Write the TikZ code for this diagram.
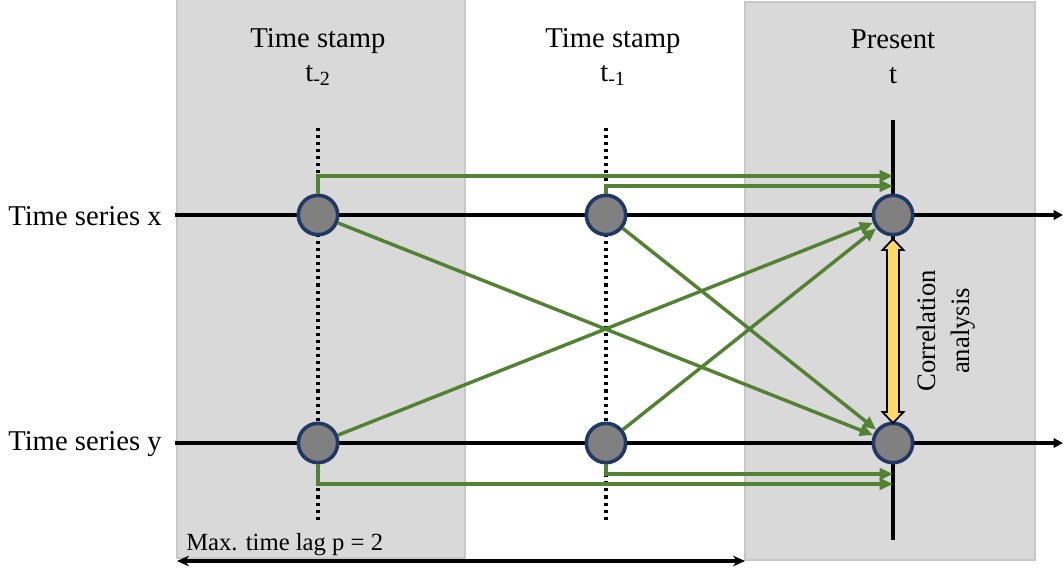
\documentclass[tikz,border=0pt]{standalone}
\usepackage{fontspec}
\setmainfont{Liberation Serif}
\usetikzlibrary{arrows.meta,calc}
\definecolor{boxgray}{HTML}{D9D9D9}
\definecolor{boxline}{HTML}{C8C8C8}
\definecolor{arrgreen}{HTML}{548235}
\definecolor{navy}{HTML}{1F3864}
\definecolor{nodegray}{HTML}{808080}
\definecolor{corryellow}{HTML}{FFD966}
\begin{document}
\begin{tikzpicture}[x=0.75pt,y=-0.75pt,
  bigtext/.style={font=\fontsize{21.5}{24}\selectfont, inner sep=0pt},
  colbox/.style={fill=boxgray, draw=boxline, line width=0.8pt},
  axis/.style={line width=2.6pt, -{Triangle[length=7pt,width=7pt]}},
  stampline/.style={line width=2.6pt, dash pattern=on 2.3pt off 3pt},
  pt/.style={circle, minimum size=29.5pt, inner sep=0pt, fill=nodegray, draw=navy, line width=2.7pt},
  garrow/.style={draw=arrgreen, line width=2.6pt, -{Triangle[length=10pt,width=8.5pt]}},
  gline/.style={draw=arrgreen, line width=2.6pt}
]
\useasboundingbox (0,0) rectangle (1063,569);
% shaded columns
\path[colbox] (177,-2) rectangle (465,558);
\path[colbox] (745,2) rectangle (1035,560);
% headings
\node[bigtext, align=center] (h2) at (318,57) {Time stamp\\[2pt] t\textsubscript{-2}};
\node[bigtext, align=center] (h1) at (613,57) {Time stamp\\[2pt] t\textsubscript{-1}};
\node[bigtext, align=center] (h0) at (893,57) {Present\\[2pt] t};
% series labels
\node[bigtext, anchor=west] (lx) at (8,216) {Time series x};
\node[bigtext, anchor=west] (ly) at (8,444) {Time series y};
% coordinates for lines
\coordinate (xs) at (175,215); \coordinate (xe) at (1063,215);
\coordinate (ys) at (175,443); \coordinate (ye) at (1063,443);
\coordinate (d2t) at (318,128); \coordinate (d2b) at (318,522);
\coordinate (d1t) at (606,128); \coordinate (d1b) at (606,522);
\coordinate (pt0) at (893,120); \coordinate (pb0) at (893,540);
% vertical lines
\draw[stampline] (d2t) -- (d2b);
\draw[stampline] (d1t) -- (d1b);
\draw[line width=2.6pt] (pt0) -- (pb0);
% time series axes
\draw[axis] (xs) -- (xe);
\draw[axis] (ys) -- (ye);
% nodes
\node[pt] (x2) at (318,215) {};
\node[pt] (x1) at (606,215) {};
\node[pt] (x0) at (893,215) {};
\node[pt] (y2) at (318,443) {};
\node[pt] (y1) at (606,443) {};
\node[pt] (y0) at (893,443) {};
% green connectors
\coordinate (a1) at (893,176);
\coordinate (a2) at (893,186);
\coordinate (a3) at (893,474);
\coordinate (a4) at (893,484);
\draw[garrow] (x2.north) |- (a1);
\draw[garrow] (x1.north) |- (a2);
\draw[garrow] (y1.south) |- (a3);
\draw[garrow] (y2.south) |- (a4);
\draw[garrow] (x2) -- (y0);
\draw[garrow] (x1) -- (y0);
\draw[garrow] (y2) -- (x0);
\draw[garrow] (y1) -- (x0);
% correlation double arrow
\coordinate (ct) at (893,239);
\coordinate (cb) at (893,423);
\draw[fill=corryellow, line width=1.3pt, line join=miter]
  (ct) -- ++(10.5,11) -- ++(-4.5,0) -- ($(cb)+(6,-11)$) -- ++(4.5,0) -- (cb)
  -- ++(-10.5,-11) -- ++(4.5,0) -- ($(ct)+(-6,11)$) -- ++(-4.5,0) -- cycle;
\node[font=\fontsize{20}{26}\selectfont, align=center, rotate=90, inner sep=0pt] (corr) at (946,331) {Correlation\\analysis};
% max time lag
\coordinate (ml) at (177,561);
\coordinate (mr) at (745,561);
\draw[line width=2.5pt, {Stealth[length=9pt,width=8pt]}-{Stealth[length=9pt,width=8pt]}] (ml) -- (mr);
\node[font=\fontsize{18.5}{22}\selectfont, anchor=west, inner sep=0pt] (lag) at (186,545) {Max. time lag p = 2};
\end{tikzpicture}
\end{document}
